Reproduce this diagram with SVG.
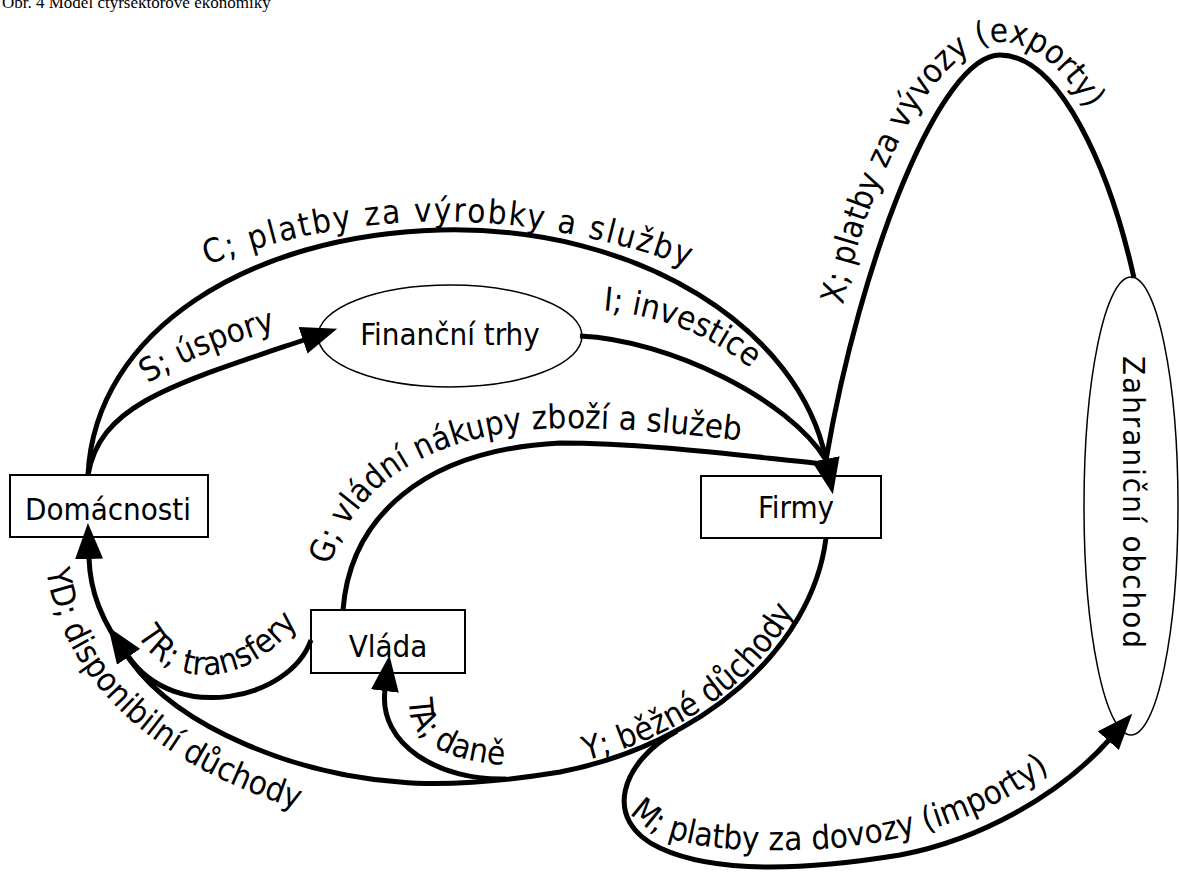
<svg xmlns="http://www.w3.org/2000/svg" width="1179" height="872" viewBox="0 0 1179 872">
<style>
.box{fill:#fff;stroke:#000;stroke-width:2}
.ell{fill:#fff;stroke:#000;stroke-width:1.5}
.flow{fill:none;stroke:#000;stroke-width:5}
.t{font-family:"DejaVu Sans Condensed","DejaVu Sans",sans-serif;font-stretch:condensed;font-size:31px;fill:#000}
.l{font-size:33px}
.nt{text-anchor:middle}
.title{font-family:"Liberation Serif","Times New Roman",serif;font-size:17px;fill:#000}
</style>
<defs>
<marker id="ah" viewBox="0 0 36 28" refX="1" refY="14" markerWidth="36" markerHeight="28" markerUnits="userSpaceOnUse" orient="auto"><path d="M0,0 L36,14 L0,28 Z" fill="#000"/></marker>
<path id="pC" d="M195,270 Q440,172 702,272"/>
<path id="pS" d="M136,392 Q190,352 290,326"/>
<path id="pI" d="M598,310 C670,315 742,345 792,412"/>
<path id="pG" d="M325,600 C330,505 410,432 560,428 C650,428 720,438 800,448"/>
<path id="pX" d="M843,305 C870,170 940,42 1000,42 C1065,42 1110,140 1140,230"/>
<path id="pYD" d="M45,562 C58,675 150,775 345,822"/>
<path id="pTR" d="M135,630 C160,685 240,700 305,615"/>
<path id="pY" d="M574,763 C690,738 780,665 808,578"/>
<path id="pTA" d="M409,697 C407,742 446,765 528,766"/>
<path id="pM" d="M622,800 C640,840 700,852 790,850 C890,850 1000,820 1080,745"/>
</defs>

<text class="title" x="2" y="8">Obr. 4 Model čtyřsektorové ekonomiky</text>

<g id="domacnosti"><rect class="box" x="10" y="475" width="198" height="62"/><text class="t nt" x="108" y="520">Domácnosti</text></g>
<g id="firmy"><rect class="box" x="701" y="476" width="180" height="62"/><text class="t nt" x="796" y="518">Firmy</text></g>
<g id="vlada"><rect class="box" x="311" y="610" width="154" height="63"/><text class="t nt" x="388" y="657">Vláda</text></g>
<g id="financni-trhy"><ellipse class="ell" cx="450" cy="336" rx="132" ry="51"/><text class="t nt" x="450" y="345">Finanční trhy</text></g>
<g id="zahranicni-obchod"><ellipse class="ell" cx="1131" cy="506" rx="47" ry="229"/><text class="t nt" transform="translate(1123,503) rotate(90)" letter-spacing="2">Zahraniční obchod</text></g>

<g id="connectors">
<path class="flow" d="M88,475 C95,330 250,235 440,230 C640,225 800,330 826,460" marker-end="url(#ah)"/>
<path class="flow" d="M88,475 C100,405 170,385 304,340" marker-end="url(#ah)"/>
<path class="flow" d="M580,336 C670,340 790,400 826,460"/>
<path class="flow" d="M343,610 C350,520 420,450 560,443 C650,443 760,458 826,464"/>
<path class="flow" d="M1134,278 C1110,170 1060,55 1000,55 C940,55 860,260 826,460"/>
<path class="flow" d="M826,538 C812,650 700,745 560,772 C500,782 440,786 400,782 C300,775 180,730 130,660 C100,620 90,590 89,558" marker-end="url(#ah)"/>
<path class="flow" d="M311,640 C290,700 175,725 128,656" marker-end="url(#ah)"/>
<path class="flow" d="M506,779 C440,781 378,745 385,690" marker-end="url(#ah)"/>
<path class="flow" d="M677,731 C622,761 600,820 660,848 C720,876 820,868 900,855 C980,840 1060,795 1109,740" marker-end="url(#ah)"/>
</g>

<g id="connector-labels">
<text class="t l" letter-spacing="2"><textPath href="#pC" startOffset="50%" text-anchor="middle">C; platby za výrobky a služby</textPath></text>
<text class="t l"><textPath href="#pS" startOffset="50%" text-anchor="middle">S; úspory</textPath></text>
<text class="t l"><textPath href="#pI" startOffset="5">I; investice</textPath></text>
<text class="t l"><textPath href="#pG" startOffset="35">G; vládní nákupy zboží a služeb</textPath></text>
<text class="t l"><textPath href="#pX" startOffset="0">X; platby za vývozy (exporty)</textPath></text>
<text class="t l"><textPath href="#pYD" startOffset="8">YD; disponibilní důchody</textPath></text>
<text class="t l"><textPath href="#pTR" startOffset="5">TR; transfery</textPath></text>
<text class="t l"><textPath href="#pY" startOffset="12">Y; běžné důchody</textPath></text>
<text class="t l"><textPath href="#pTA" startOffset="2">TA; daně</textPath></text>
<text class="t l"><textPath href="#pM" startOffset="15">M; platby za dovozy (importy)</textPath></text>
</g>
</svg>
